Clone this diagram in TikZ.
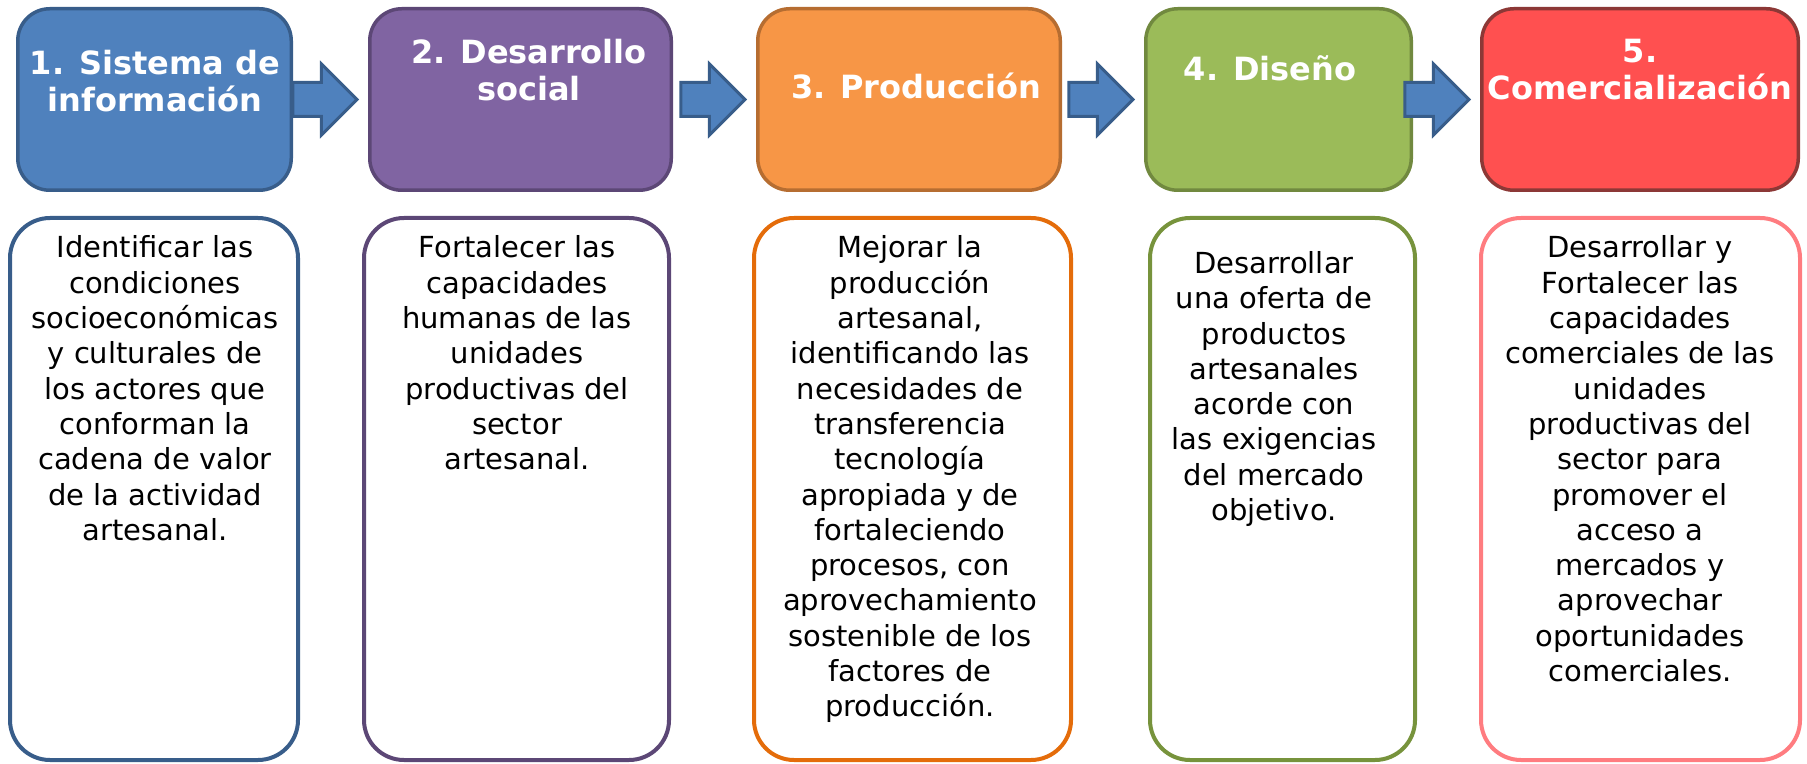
\documentclass[tikz,border=0pt]{standalone}
\usepackage{fontspec}
\setmainfont{DejaVu Sans}
\usepackage{tikz}
\usetikzlibrary{calc,positioning,shapes.arrows}

\definecolor{azul}{HTML}{4F81BD}
\definecolor{azulB}{HTML}{385D8A}
\definecolor{morado}{HTML}{8064A2}
\definecolor{moradoB}{HTML}{5C4776}
\definecolor{naranja}{HTML}{F79646}
\definecolor{naranjaB}{HTML}{B66D31}
\definecolor{verde}{HTML}{9BBB59}
\definecolor{verdeB}{HTML}{71893F}
\definecolor{rojo}{HTML}{FF5050}
\definecolor{rojoB}{HTML}{8C3836}
% bordes de las cajas de abajo
\definecolor{naranjaF}{HTML}{E46C0A}
\definecolor{verdeF}{HTML}{77933C}
\definecolor{rosa}{HTML}{FF7C80}

\tikzset{
    etapa/.style={
        rectangle,
        rounded corners=16pt,
        line width=1.75pt,
        minimum height=90.75pt,
        inner sep=0pt
    },
    descripcion/.style={
        rectangle,
        rounded corners=20pt,
        line width=2pt,
        fill=white,
        minimum height=271pt,
        inner sep=0pt
    },
    titulo/.style={
        anchor=north,
        inner sep=0pt,
        align=center,
        text=white,
        font={\fontsize{16pt}{18.5pt}\selectfont\bfseries}
    },
    texto/.style={
        anchor=north,
        inner sep=0pt,
        align=center,
        font={\fontsize{14.5pt}{17.65pt}\selectfont}
    },
    flecha/.style={
        single arrow,
        single arrow head extend=9.25pt,
        single arrow tip angle=90,
        inner xsep=0pt, inner ysep=7.75pt,
        minimum height=32pt,
        anchor=tip,
        fill=azul, draw=azulB, line width=1.5pt
    },
}

\begin{document}
\begin{tikzpicture}[x=0.5pt, y=-0.5pt]
\useasboundingbox (0,0) rectangle (1807,764);

% etapas
\foreach \x/\w/\relleno/\borde [count=\i] in {154.5/136.75/azul/azulB,
    520.5/150.75/morado/moradoB, 909/151.25/naranja/naranjaB,
    1278.5/132.75/verde/verdeB, 1640/158.25/rojo/rojoB}
  \node [etapa, minimum width=\w pt, fill=\relleno, draw=\borde] (etapa-\i) at (\x,99.5) {};

\foreach \x/\y/\t [count=\i] in {155/49.7/{1. Sistema de\\información},
    529/38.7/{2. Desarrollo\\social}, 916/72.7/{3. Producción},
    1270/55.7/{4. Diseño}, 1640/38.7/{5.\\Comercialización}}
  \node [titulo] (titulo-\i) at (\x,\y) {\t};

\foreach \i/\j in {1/2,2/3,3/4,4/5}
  \node [flecha] (flecha-\i) at ($(etapa-\j.west)+(-9,0)$) {};

% descripciones
\foreach \x/\w/\borde [count=\i] in {154/144/azulB, 516.5/152.5/moradoB,
    912.5/158.5/naranjaF, 1282.5/132.5/verdeF, 1640.5/159.5/rosa}
  \node [descripcion, minimum width=\w pt, draw=\borde] (desc-\i) at (\x,489) {};

\foreach \x/\y/\t [count=\i] in {
    155/235.5/{Identificar las\\condiciones\\socioeconómicas\\y culturales de\\los actores que\\conforman la\\cadena de valor\\de la actividad\\artesanal.},
    517/235.5/{Fortalecer las\\capacidades\\humanas de las\\unidades\\productivas del\\sector\\artesanal.},
    910/235.5/{Mejorar la\\producción\\artesanal,\\identificando las\\necesidades de\\transferencia\\tecnología\\apropiada y de\\fortaleciendo\\procesos, con\\aprovechamiento\\sostenible de los\\factores de\\producción.},
    1274/251/{Desarrollar\\una oferta de\\productos\\artesanales\\acorde con\\las exigencias\\del mercado\\objetivo.},
    1640/235.5/{Desarrollar y\\Fortalecer las\\capacidades\\comerciales de las\\unidades\\productivas del\\sector para\\promover el\\acceso a\\mercados y\\aprovechar\\oportunidades\\comerciales.}}
  \node [texto] (texto-\i) at (\x,\y) {\t};

\end{tikzpicture}
\end{document}
